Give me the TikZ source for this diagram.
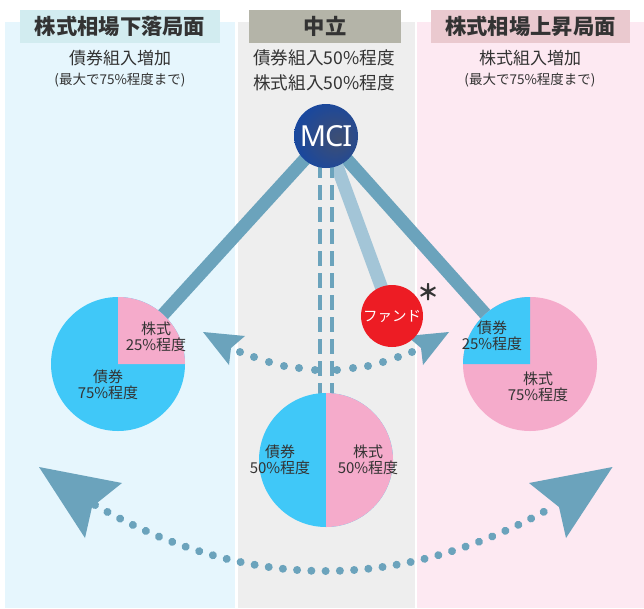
\documentclass[tikz,border=0pt]{standalone}
\usepackage{fontspec}
\setmainfont{Noto Sans CJK JP}
\newfontfamily\latinf[LetterSpace=-4]{Noto Sans}
\usetikzlibrary{decorations.markings}
\definecolor{bandL}{HTML}{E6F6FD}
\definecolor{bandC}{HTML}{EEEEEE}
\definecolor{bandR}{HTML}{FDE9F2}
\definecolor{headL}{HTML}{D2ECF0}
\definecolor{headC}{HTML}{B4B4A8}
\definecolor{headR}{HTML}{EAC9CF}
\definecolor{steel}{HTML}{6BA3BC}
\definecolor{steelL}{HTML}{A3C5D7}
\definecolor{pieB}{HTML}{40C8F8}
\definecolor{pieP}{HTML}{F5ABCB}
\definecolor{ink}{HTML}{333333}
\definecolor{fundred}{HTML}{ED1C24}
\pgfdeclareradialshading{mcishade}{\pgfpoint{10bp}{-2bp}}{
  color(0bp)=(rgb:red,0.47;green,0.60;blue,0.87);
  color(16bp)=(rgb:red,0.24;green,0.42;blue,0.78);
  color(34bp)=(rgb:red,0.07;green,0.28;blue,0.66);
  color(50bp)=(rgb:red,0.07;green,0.28;blue,0.66)}
\tikzset{
  band/.style={anchor=north west,inner sep=0pt,outer sep=0pt},
  headtxt/.style={font=\fontsize{21.3}{23}\selectfont\bfseries,text=ink,inner sep=0pt},
  subtxt/.style={font=\fontsize{17}{19}\selectfont,text=ink,inner sep=0pt},
  midtxt/.style={font=\fontsize{17.6}{19}\selectfont,text=ink,inner sep=0pt},
  smalltxt/.style={font=\fontsize{13.5}{15}\selectfont,text=ink,inner sep=0pt},
  pielab/.style={font=\fontsize{15}{16.5}\selectfont,text=ink,align=center,inner sep=0pt},
  piebase/.style={circle,minimum size=134pt,inner sep=0pt,outer sep=0pt,fill=pieB},
  bond/.style={line width=13pt,steel},
  twin/.style={line width=4.5pt,steel,dash pattern=on 15pt off 7pt},
  dotc/.style={fill=steel},
  tip/.style={fill=steel},
}
\begin{document}
\begin{tikzpicture}[x=1pt,y=-1pt]
\useasboundingbox (0,0) rectangle (644,608);
\fill[white] (0,0) rectangle (644,608);
% bands
\node[band,fill=bandL,minimum width=230pt,minimum height=586pt] (bL) at (5,22) {};
\node[band,fill=bandC,minimum width=177pt,minimum height=586pt] (bC) at (238,22) {};
\node[band,fill=bandR,minimum width=227pt,minimum height=586pt] (bR) at (417,22) {};
% headers
\node[band,fill=headL,minimum width=200pt,minimum height=33pt] (hL) at (20,10) {};
\node[band,fill=headC,minimum width=152pt,minimum height=33pt] (hC) at (249,10) {};
\node[band,fill=headR,minimum width=199pt,minimum height=33pt] (hR) at (431,10) {};
\node[headtxt] (tL) at (hL.center) {株式相場下落局面};
\node[headtxt] (tC) at (hC.center) {中立};
\node[headtxt] (tR) at (hR.center) {株式相場上昇局面};
\node[subtxt] (s1) at (120,58) {債券組入増加};
\node[smalltxt] (s2) at (120,80) {(最大で75\%程度まで)};
\node[midtxt] (s3) at (324,58) {債券組入50\%程度};
\node[midtxt] (s4) at (324,83) {株式組入50\%程度};
\node[subtxt] (s5) at (530,58) {株式組入増加};
\node[smalltxt] (s6) at (530,80) {(最大で75\%程度まで)};
% anchor points
\coordinate (mciP) at (326,136);
\coordinate (pLP) at (118,364);
\coordinate (pCP) at (326,460);
\coordinate (pRP) at (530,364);
\coordinate (fP) at (392,316);
\coordinate (twinAtop) at (320,163);
\coordinate (twinAbot) at (320,396);
\coordinate (twinBtop) at (332,163);
\coordinate (twinBbot) at (332,396);
% small arc dots
\foreach \x/\y in {240/352,254/357,269/362,284/366,299/368,315/370,337/370,353/368,368/366,383/362,398/357,412/352}
  \fill[dotc] (\x,\y) circle[radius=4pt];
% connectors
\draw[bond] (mciP) -- (pLP);
\draw[bond] (mciP) -- (pRP);
\draw[bond,steelL] (mciP) -- (fP);
\draw[twin] (twinAtop) -- (twinAbot);
\draw[twin] (twinBtop) -- (twinBbot);
% small arrowheads
\fill[tip] (203,332) -- (245,336) -- (231,348) -- (229,365) -- cycle;
\fill[tip] (449,332) -- (407,336) -- (421,348) -- (423,365) -- cycle;
% pies
\node[piebase] (pL) at (pLP) {};
\fill[pieP] (pL.center) -- (pL.north) arc[start angle=90,end angle=0,radius=67pt] -- cycle;
\node[piebase] (pC) at (pCP) {};
\fill[pieP] (pC.north) arc[start angle=90,end angle=-90,radius=67pt] -- cycle;
\node[piebase,fill=pieP] (pR) at (pRP) {};
\fill[pieB] (pR.center) -- (pR.north) arc[start angle=90,end angle=180,radius=67pt] -- cycle;
% pie labels
\node[pielab] (l1) at (156,337) {株式\\25\%程度};
\node[pielab] (l2) at (108,385) {債券\\75\%程度};
\node[pielab] (l3) at (280,460) {債券\\50\%程度};
\node[pielab] (l4) at (368,460) {株式\\50\%程度};
\node[pielab] (l5) at (492,336) {債券\\25\%程度};
\node[pielab] (l6) at (538,387) {株式\\75\%程度};
% MCI and fund
\node[circle,minimum size=64pt,inner sep=0pt,shading=mcishade,text=white,font=\latinf\fontsize{29}{30}\selectfont] (mci) at (mciP) {MCI};
\node[circle,minimum size=62pt,inner sep=0pt,fill=fundred,text=white,font=\fontsize{14.5}{16}\selectfont] (fund) at (fP) {ファンド};
\node[inner sep=0pt,text=ink,font=\fontsize{22}{22}\selectfont\bfseries] (star) at (428,292) {＊};
% large arc
\path[postaction={decorate},decoration={markings,mark=between positions 0 and 1 step 0.0294 with {\fill[dotc] (0,0) circle[radius=4pt];}}]
  (95,505) .. controls (248.7,593) and (402.3,593) .. (556,505);
\fill[tip] (39,467) -- (122,483) -- (92,507) -- (85,538) -- cycle;
\fill[tip] (612.5,467) -- (529,483) -- (559,507) -- (566,538) -- cycle;
\end{tikzpicture}
\end{document}
